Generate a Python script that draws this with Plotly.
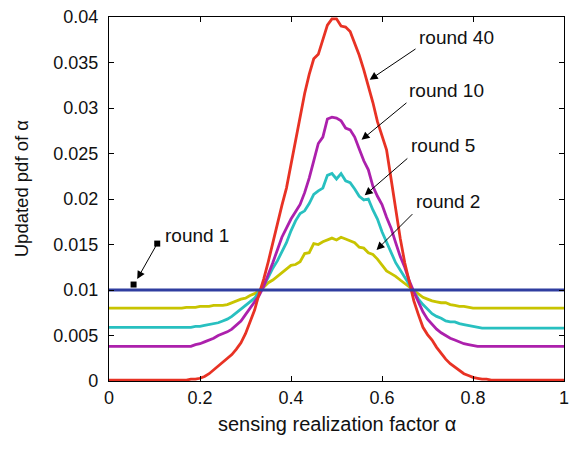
import plotly.graph_objects as go

# Sensing realization factor grid (step 0.01)
alpha = [i / 100 for i in range(101)]

# Updated pdf of alpha after each round
round1 = [0.0100] * 101

round2 = ([0.0080] * 16 +
          [0.0080, 0.0081, 0.0081, 0.0081, 0.0082, 0.0082, 0.0082, 0.0083, 0.0083, 0.0083,
           0.0084, 0.0086, 0.0088, 0.0090, 0.0091, 0.0094, 0.0096, 0.0099, 0.0103, 0.0108,
           0.0111, 0.0115, 0.0119, 0.0123, 0.0127, 0.0128, 0.0131, 0.0140, 0.0141, 0.0151,
           0.0150, 0.0153, 0.0155, 0.0157, 0.0155, 0.0158, 0.0156, 0.0154, 0.0152, 0.0147,
           0.0146, 0.0141, 0.0139, 0.0134, 0.0127, 0.0121, 0.0118, 0.0115, 0.0111, 0.0107,
           0.0103, 0.0100, 0.0096, 0.0092, 0.0090, 0.0088, 0.0087, 0.0086, 0.0086, 0.0084,
           0.0083, 0.0082, 0.0082, 0.0081] +
          [0.0080] * 21)

round5 = ([0.0059] * 19 +
          [0.0060, 0.0060, 0.0061, 0.0062, 0.0063, 0.0064, 0.0066, 0.0068, 0.0071, 0.0075,
           0.0078, 0.0082, 0.0086, 0.0091, 0.0098, 0.0105, 0.0114, 0.0124, 0.0132, 0.0142,
           0.0152, 0.0165, 0.0176, 0.0184, 0.0187, 0.0195, 0.0205, 0.0209, 0.0212, 0.0226,
           0.0228, 0.0222, 0.0228, 0.0220, 0.0218, 0.0211, 0.0203, 0.0199, 0.0200, 0.0188,
           0.0178, 0.0164, 0.0152, 0.0140, 0.0130, 0.0122, 0.0114, 0.0106, 0.0098, 0.0090,
           0.0084, 0.0079, 0.0074, 0.0071, 0.0069, 0.0066, 0.0065, 0.0065, 0.0063, 0.0062,
           0.0061, 0.0060, 0.0059] +
          [0.0058] * 19)

round10 = ([0.0038] * 19 +
           [0.0040, 0.0041, 0.0043, 0.0045, 0.0047, 0.0050, 0.0052, 0.0054, 0.0057, 0.0061,
            0.0066, 0.0073, 0.0080, 0.0086, 0.0094, 0.0104, 0.0116, 0.0130, 0.0144, 0.0158,
            0.0168, 0.0178, 0.0186, 0.0194, 0.0207, 0.0223, 0.0242, 0.0261, 0.0268, 0.0288,
            0.0290, 0.0289, 0.0286, 0.0278, 0.0276, 0.0268, 0.0255, 0.0242, 0.0232, 0.0214,
            0.0203, 0.0194, 0.0180, 0.0168, 0.0152, 0.0137, 0.0125, 0.0110, 0.0098, 0.0086,
            0.0076, 0.0068, 0.0062, 0.0057, 0.0053, 0.0050, 0.0047, 0.0045, 0.0043, 0.0041,
            0.0040, 0.0039] +
           [0.0038] * 20)

round40 = ([0.0001] * 16 +
           [0.0001, 0.0001, 0.0002, 0.0002, 0.0003, 0.0005, 0.0008, 0.0012, 0.0016, 0.0020,
            0.0024, 0.0029, 0.0035, 0.0042, 0.0052, 0.0064, 0.0078, 0.0096, 0.0112, 0.0131,
            0.0152, 0.0174, 0.0193, 0.0212, 0.0238, 0.0264, 0.0287, 0.0316, 0.0337, 0.0354,
            0.0359, 0.0374, 0.0391, 0.0398, 0.0398, 0.0390, 0.0389, 0.0384, 0.0372, 0.0358,
            0.0342, 0.0325, 0.0306, 0.0285, 0.0270, 0.0254, 0.0222, 0.0187, 0.0157, 0.0130,
            0.0108, 0.0088, 0.0073, 0.0059, 0.0051, 0.0045, 0.0037, 0.0030, 0.0024, 0.0019,
            0.0015, 0.0011, 0.0008, 0.0006, 0.0004, 0.0003, 0.0002, 0.0002] +
           [0.0001] * 17)

series = [
    ("round 2", round2, "rgb(200,196,0)"),
    ("round 5", round5, "rgb(40,192,192)"),
    ("round 10", round10, "rgb(172,32,172)"),
    ("round 40", round40, "rgb(232,50,36)"),
    ("round 1", round1, "rgb(48,62,160)"),
]

FONT = "Liberation Sans, Arial, Helvetica, sans-serif"

fig = go.Figure()
for name, ys, color in series:
    fig.add_trace(go.Scatter(x=alpha, y=ys, mode="lines", name=name,
                             line=dict(color=color, width=2.8), showlegend=False))

# square end-markers of the "round 1" pointer
fig.add_trace(go.Scatter(x=[0.054, 0.106], y=[0.0106, 0.0151], mode="markers",
                         marker=dict(symbol="square", size=6, color="black"),
                         showlegend=False, hoverinfo="skip"))

# pointer arrows: (head x, head y, tail x, tail y)
arrows = [
    (0.573, 0.0331, 0.677, 0.0366),
    (0.555, 0.0265, 0.657, 0.0307),
    (0.562, 0.0204, 0.659, 0.0246),
    (0.588, 0.0144, 0.670, 0.0185),
    (0.062, 0.0112, 0.106, 0.0151),
]
for hx, hy, tx, ty in arrows:
    fig.add_annotation(x=hx, y=hy, ax=tx, ay=ty, xref="x", yref="y", axref="x", ayref="y",
                       text="", showarrow=True, arrowhead=2, arrowsize=1.6,
                       arrowwidth=1, arrowcolor="black")

labels = [
    ("round 40", 0.764, 0.0378, "center"),
    ("round 10", 0.742, 0.0319, "center"),
    ("round 5", 0.735, 0.0259, "center"),
    ("round 2", 0.746, 0.0197, "center"),
    ("round 1", 0.118, 0.0160, "left"),
]
for txt, lx, ly, anchor in labels:
    fig.add_annotation(x=lx, y=ly, xref="x", yref="y", text=txt, showarrow=False,
                       xanchor=anchor, yanchor="middle",
                       font=dict(family=FONT, size=19, color="#111"))

# axis titles
fig.add_annotation(x=0.5, y=-0.118, xref="paper", yref="paper", text="sensing realization factor α",
                   showarrow=False, xanchor="center", yanchor="middle",
                   font=dict(family=FONT, size=20, color="#111"))
fig.add_annotation(x=-0.193, y=0.53, xref="paper", yref="paper", text="Updated pdf of α",
                   showarrow=False, textangle=-90, xanchor="center", yanchor="middle",
                   font=dict(family=FONT, size=18.5, color="#111"))

axis_common = dict(showline=True, linecolor="black", linewidth=1.2, mirror="ticks",
                   ticks="inside", ticklen=5, tickcolor="black", showgrid=False,
                   zeroline=False, tickfont=dict(family=FONT, size=18, color="#111"))

fig.update_xaxes(range=[0, 1], tickvals=[0, 0.2, 0.4, 0.6, 0.8, 1],
                 ticktext=["0", "0.2", "0.4", "0.6", "0.8", "1"],
                 ticklabeloverflow="allow", **axis_common)
fig.update_yaxes(range=[0, 0.04],
                 tickvals=[0, 0.005, 0.01, 0.015, 0.02, 0.025, 0.03, 0.035, 0.04],
                 ticktext=["0", "0.005", "0.01", "0.015", "0.02", "0.025", "0.03", "0.035", "0.04"],
                 ticklabelstandoff=6, ticklabeloverflow="allow", **axis_common)

fig.update_layout(width=573, height=449, margin=dict(l=109, r=4, t=17, b=68),
                  plot_bgcolor="white", paper_bgcolor="white")

fig.write_html("out.html")
